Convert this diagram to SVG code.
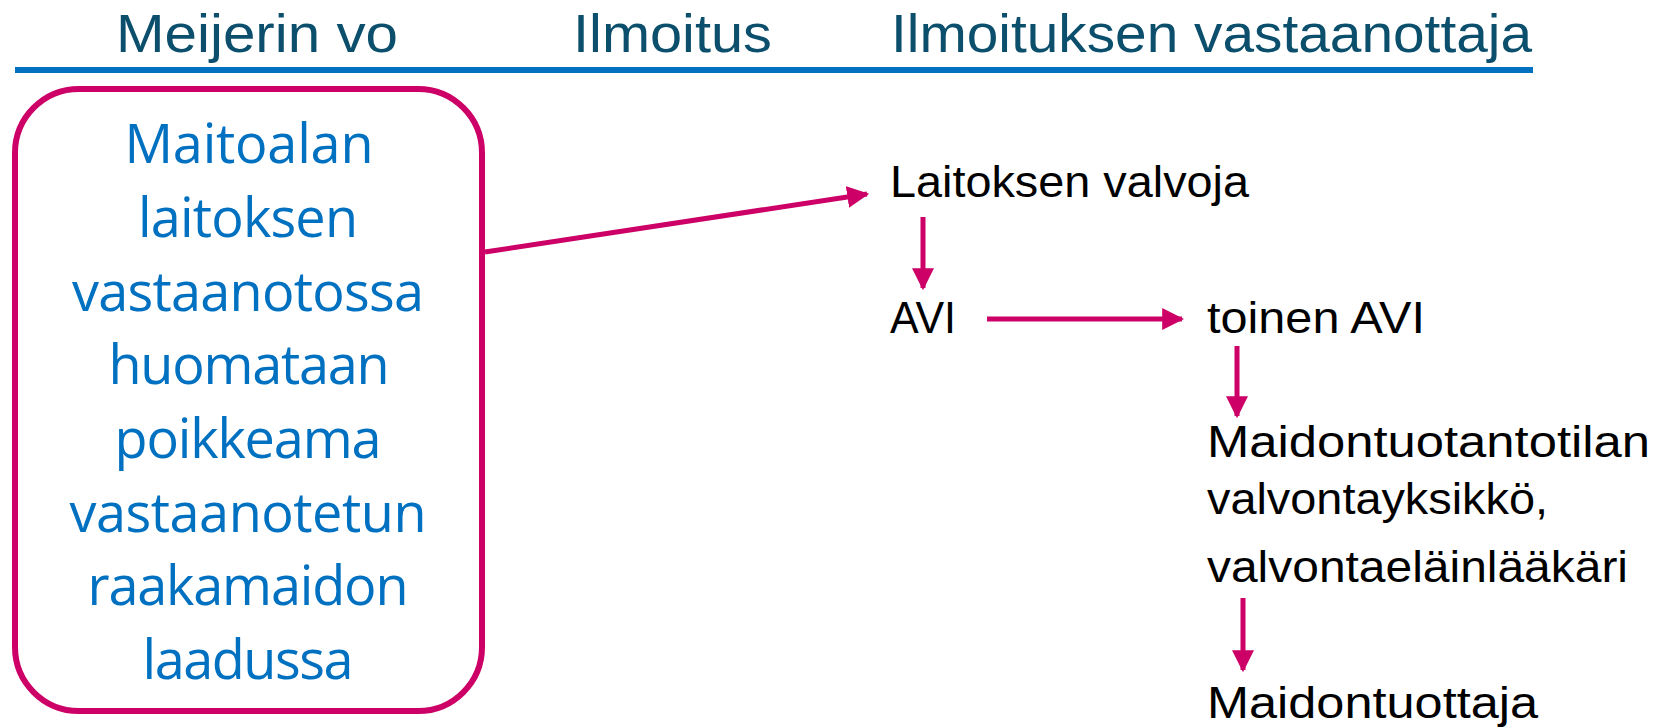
<svg xmlns="http://www.w3.org/2000/svg" width="1661" height="727" viewBox="0 0 1661 727">
<style>
.hdr{font-family:"Liberation Sans",Arial,sans-serif;font-size:54px;fill:#0B4F6C}
.box{font-family:"Open Sans","Noto Sans",sans-serif;font-size:54px;fill:#0070C0;text-anchor:middle}
.lbl{font-family:"Liberation Sans",Arial,sans-serif;font-size:45px;fill:#000}
.conn{stroke:#CC0066;stroke-width:5;fill:none}
</style>
<defs>
<marker id="ah" markerUnits="userSpaceOnUse" markerWidth="22" markerHeight="22" viewBox="0 0 20 20" refX="18" refY="10" orient="auto">
<path d="M0,0 L20,10 L0,20 z" fill="#CC0066"/>
</marker>
</defs>
<g id="header">
<text class="hdr" x="116" y="52" textLength="282" lengthAdjust="spacingAndGlyphs">Meijerin vo</text>
<text class="hdr" x="573" y="52" textLength="199" lengthAdjust="spacingAndGlyphs">Ilmoitus</text>
<text class="hdr" x="891" y="52" textLength="641" lengthAdjust="spacingAndGlyphs">Ilmoituksen vastaanottaja</text>
<rect x="15" y="67" width="1518" height="6" fill="#0070C0"/>
</g>
<g id="node-source">
<rect x="15" y="89" width="467" height="622" rx="64" ry="64" fill="#fff" stroke="#CC0066" stroke-width="6"/>
<text class="box" x="249" y="163" textLength="249" lengthAdjust="spacing">Maitoalan</text>
<text class="box" x="248" y="237" textLength="220" lengthAdjust="spacing">laitoksen</text>
<text class="box" x="248" y="311" textLength="352" lengthAdjust="spacing">vastaanotossa</text>
<text class="box" x="249" y="384" textLength="281" lengthAdjust="spacing">huomataan</text>
<text class="box" x="248" y="458" textLength="267" lengthAdjust="spacing">poikkeama</text>
<text class="box" x="248" y="532" textLength="357" lengthAdjust="spacing">vastaanotetun</text>
<text class="box" x="248" y="605" textLength="321" lengthAdjust="spacing">raakamaidon</text>
<text class="box" x="248" y="679" textLength="211" lengthAdjust="spacing">laadussa</text>
</g>
<g id="node-laitoksen-valvoja"><text class="lbl" x="890" y="197" textLength="359" lengthAdjust="spacingAndGlyphs">Laitoksen valvoja</text></g>
<g id="node-avi"><text class="lbl" x="890" y="333" textLength="66" lengthAdjust="spacingAndGlyphs">AVI</text></g>
<g id="node-toinen-avi"><text class="lbl" x="1207" y="333" textLength="218" lengthAdjust="spacingAndGlyphs">toinen AVI</text></g>
<g id="node-valvontayksikko">
<text class="lbl" x="1207" y="457" textLength="443" lengthAdjust="spacingAndGlyphs">Maidontuotantotilan</text>
<text class="lbl" x="1207" y="514" textLength="341" lengthAdjust="spacingAndGlyphs">valvontayksikkö,</text>
<text class="lbl" x="1207" y="582" textLength="421" lengthAdjust="spacingAndGlyphs">valvontaeläinlääkäri</text>
</g>
<g id="node-maidontuottaja"><text class="lbl" x="1207" y="718" textLength="331" lengthAdjust="spacingAndGlyphs">Maidontuottaja</text></g>
<g id="connectors">
<line class="conn" x1="485" y1="252" x2="867" y2="194" marker-end="url(#ah)"/>
<line class="conn" x1="923" y1="217" x2="923" y2="288" marker-end="url(#ah)"/>
<line class="conn" x1="987" y1="319" x2="1182" y2="319" marker-end="url(#ah)"/>
<line class="conn" x1="1237" y1="346" x2="1237" y2="416" marker-end="url(#ah)"/>
<line class="conn" x1="1243" y1="598" x2="1243" y2="670" marker-end="url(#ah)"/>
</g>
</svg>
